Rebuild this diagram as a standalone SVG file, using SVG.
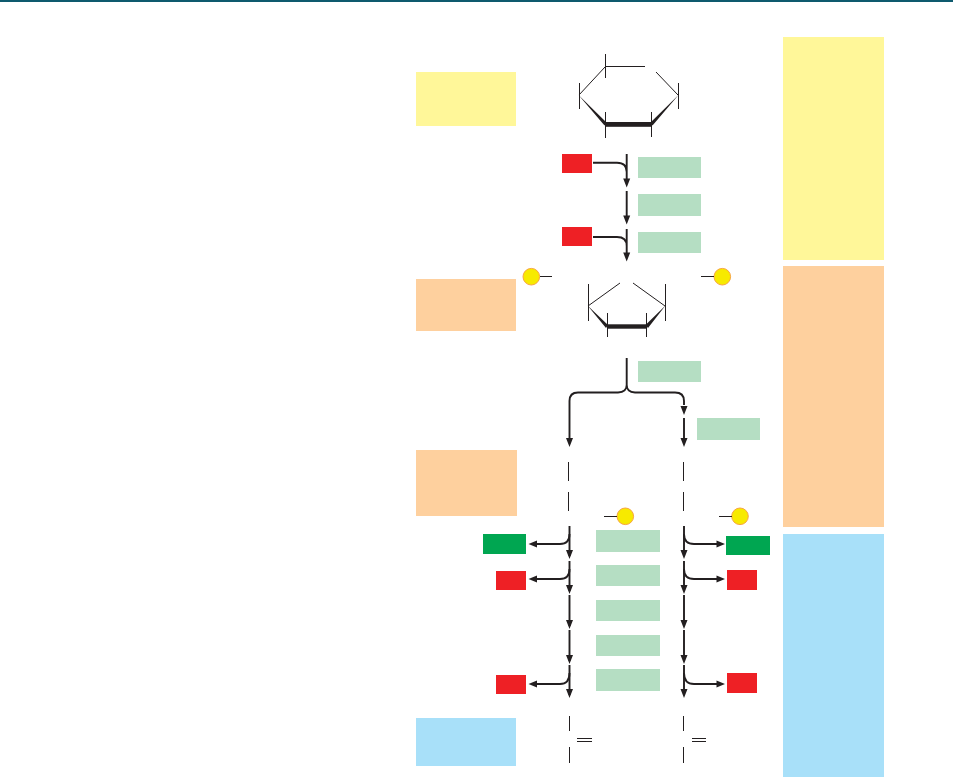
<svg xmlns="http://www.w3.org/2000/svg" width="953" height="779" viewBox="0 0 953 779">
<style>
.y{fill:#fff799}.o{fill:#fed09e}.b{fill:#a8e0f9}.r{fill:#ee2025}.g{fill:#00a651}.m{fill:#b5dec3}
.t{fill:#f7ea00;stroke:#f7a541;stroke-width:1}
.l{fill:none;stroke:#231f20;stroke-width:1}
.s{fill:none;stroke:#231f20;stroke-width:1}
.a{fill:none;stroke:#231f20;stroke-width:1.9}
.h{fill:#231f20}
</style>
<rect id="topbar" width="953" height="2" fill="#0e5a6e"/>
<g id="band-yellow"><rect class="y" x="783" y="37" width="101" height="223"/></g>
<g id="band-orange"><rect class="o" x="783" y="266" width="101" height="261"/></g>
<g id="band-blue"><rect class="b" x="783" y="534" width="101" height="243"/></g>
<g id="label-1"><rect class="y" x="416" y="72" width="100" height="54"/></g>
<g id="label-2"><rect class="o" x="416" y="279" width="100" height="52"/></g>
<g id="label-3"><rect class="o" x="416" y="450" width="101" height="66"/></g>
<g id="label-4"><rect class="b" x="416" y="718" width="100" height="48"/></g>
<g id="hexagon">
<path class="s" d="M605 67L579 95M656 72L678 95"/>
<path class="l" d="M605 66.500H645M605.500 54V78M579.500 83V109M678.500 83V109M605.500 112V138M651.500 112V137"/>
<path class="h" d="M578.500 95L606.500 122.500L604.500 125.500ZM678.500 95L650.500 122.500L652.500 125.500Z"/>
<rect class="h" x="605" y="122" width="47" height="4.800"/>
</g>
<g id="pentagon">
<path class="s" d="M588 306L620 283M633 283L665 306"/>
<path class="l" d="M588.500 284V321M665.500 284V321M607.500 313V337M646.500 313V337"/>
<path class="h" d="M587.500 305.500L608 325L606 328ZM665.500 305.500L645.500 325L648 328Z"/>
<rect class="h" x="607" y="324.300" width="40" height="4.400"/>
</g>
<g id="enzyme-1"><rect class="m" x="638" y="157" width="63" height="21"/></g>
<g id="enzyme-2"><rect class="m" x="638" y="194" width="63" height="22"/></g>
<g id="enzyme-3"><rect class="m" x="638" y="232" width="63" height="21"/></g>
<g id="enzyme-4"><rect class="m" x="638" y="361" width="63" height="21"/></g>
<g id="enzyme-5"><rect class="m" x="697" y="418" width="63" height="22"/></g>
<g id="enzyme-6"><rect class="m" x="596" y="530" width="64" height="22"/></g>
<g id="enzyme-7"><rect class="m" x="596" y="565" width="64" height="21"/></g>
<g id="enzyme-8"><rect class="m" x="596" y="600" width="64" height="21"/></g>
<g id="enzyme-9"><rect class="m" x="596" y="635" width="64" height="21"/></g>
<g id="enzyme-10"><rect class="m" x="596" y="669" width="64" height="22"/></g>
<g id="atp-1"><rect class="r" x="562" y="154" width="30" height="19"/></g>
<g id="atp-2"><rect class="r" x="562" y="227" width="30" height="19"/></g>
<g id="nadh-l"><rect class="g" x="483" y="534" width="43" height="20"/></g>
<g id="atp-3"><rect class="r" x="496" y="571" width="30" height="19"/></g>
<g id="atp-4"><rect class="r" x="496" y="675" width="30" height="19"/></g>
<g id="nadh-r"><rect class="g" x="726" y="536" width="44" height="19"/></g>
<g id="atp-5"><rect class="r" x="727" y="570" width="30" height="20"/></g>
<g id="atp-6"><rect class="r" x="727" y="673" width="30" height="20"/></g>
<g id="phosphate-1"><circle class="t" cx="531.300" cy="276.700" r="8.300"/><path class="l" d="M540 276.500H552"/></g>
<g id="phosphate-2"><circle class="t" cx="722.300" cy="276.700" r="8.300"/><path class="l" d="M701 276.500H714"/></g>
<g id="phosphate-3"><circle class="t" cx="625.300" cy="516.300" r="8.300"/><path class="l" d="M604 516.500H617"/></g>
<g id="phosphate-4"><circle class="t" cx="740" cy="516.300" r="8.300"/><path class="l" d="M719 516.500H732"/></g>
<g id="product-l"><path class="l" d="M568.500 462V481M568.500 492V511M569.500 716V731M569.500 747V763M577 738.500H592M577 741.500H592"/></g>
<g id="product-r"><path class="l" d="M683.500 462V481M683.500 492V511M683.500 716V731M683.500 747V763M692 738.500H706M692 741.500H706"/></g>
<g id="connectors">
<path class="a" d="M626.700 154V182M626.700 191V219M626.700 229V256M593 162.700H617Q626.700 162.700 626.700 172M593 237H617Q626.700 237 626.700 246"/>
<path class="h" d="M623.200 178.500H630.200L626.700 187.500ZM623.200 215.500H630.200L626.700 224.500ZM623.200 252.500H630.200L626.700 261.500Z"/>
<path class="a" d="M626.700 358V385Q626.700 392 618 392.500H578Q569.500 392.500 569.500 401V440M626.700 385Q626.700 392 635 392.500H675Q684 392.500 684 401V405M684 418V440"/>
<path class="h" d="M680.500 406H687.500L684 415ZM566 438H573L569.500 447ZM680.500 438H687.500L684 447Z"/>
<path class="a" d="M569.500 526V556M569.500 561V591M569.500 595V626M569.500 630V661M569.500 665V695"/>
<path class="a" d="M684 526V556M684 561V591M684 595V626M684 630V661M684 665V695"/>
<path class="h" d="M566 550H573L569.500 559ZM566 585H573L569.500 594ZM566 620H573L569.500 629ZM566 655H573L569.500 664ZM566 689H573L569.500 698Z"/>
<path class="h" d="M680.500 550H687.500L684 559ZM680.500 585H687.500L684 594ZM680.500 620H687.500L684 629ZM680.500 655H687.500L684 664ZM680.500 689H687.500L684 698Z"/>
<path class="a" d="M569.500 534Q569.500 544 560 544H535M569.500 569Q569.500 579 560 579H535M569.500 673Q569.500 684 560 684H535"/>
<path class="a" d="M684 534Q684 544 694 544H717M684 569Q684 579 694 579H717M684 673Q684 684 694 684H717"/>
<path class="h" d="M537 540.500V547.500L528.500 544ZM537 575.500V582.500L528.500 579ZM537 680.500V687.500L528.500 684Z"/>
<path class="h" d="M716.500 540.500V547.500L725 544ZM716.500 575.500V582.500L725 579ZM716.500 680.500V687.500L725 684Z"/>
</g>
</svg>
